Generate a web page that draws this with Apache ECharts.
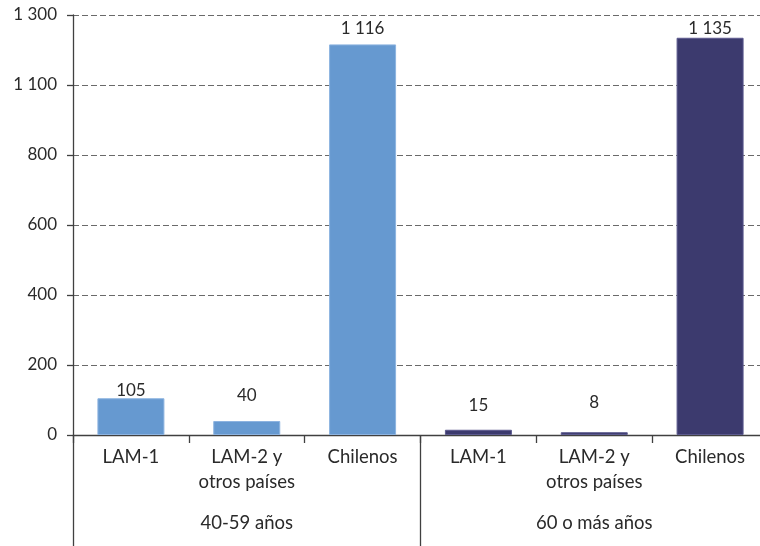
<!DOCTYPE html>
<html>
<head>
<meta charset="utf-8">
<script src="https://cdn.jsdelivr.net/npm/echarts@6/dist/echarts.min.js"></script>
<style>
html,body{margin:0;padding:0;background:#fff;overflow:hidden;}
#c{width:770px;height:546px;}
</style>
</head>
<body>
<div id="c"></div>
<script>
var categories = ['LAM-1', 'LAM-2 y\notros países', 'Chilenos', 'LAM-1', 'LAM-2 y\notros países', 'Chilenos'];
var groups = ['40-59 años', '60 o más años'];
var values = [105, 40, 1116, 15, 8, 1135];
var yTickLabels = ['0', '200', '400', '600', '800', '1 100', '1 300'];

// styling (not data)
var barColors = ['#6699D0', '#6699D0', '#6699D0', '#3C3A6E', '#3C3A6E', '#3C3A6E'];
var borderColors = ['#8DB3E0', '#8DB3E0', '#8DB3E0', '#5C5A8E', '#5C5A8E', '#5C5A8E'];
var labelDistances = [-1, 17, 7, 16, 21, 1];

var FONT = 'Lato';
var TXT = '#2a2a2a';

function fmt(v) {
  return String(v).replace(/\B(?=(\d{3})+(?!\d))/g, ' ');
}

var chart = echarts.init(document.getElementById('c'), null, {renderer: 'canvas'});
chart.setOption({
  animation: false,
  backgroundColor: '#ffffff',
  grid: {left: 73, right: 2, top: 15, bottom: 111, containLabel: false},
  xAxis: [
    {
      type: 'category',
      data: categories,
      position: 'bottom',
      axisLine: {show: true, lineStyle: {color: '#404040', width: 1.3}},
      axisTick: {show: true, length: 8, alignWithLabel: false, lineStyle: {color: '#404040', width: 1.3}},
      axisLabel: {interval: 0, margin: 10, fontFamily: FONT, fontSize: 18.5, lineHeight: 25, color: TXT}
    },
    {
      type: 'category',
      data: groups,
      position: 'bottom',
      axisLine: {show: false},
      axisTick: {show: true, length: 112, alignWithLabel: false, lineStyle: {color: '#404040', width: 1.3}},
      axisLabel: {interval: 0, margin: 76, fontFamily: FONT, fontSize: 18.5, lineHeight: 24, color: TXT}
    }
  ],
  yAxis: {
    type: 'value',
    min: 0,
    max: 1200,
    interval: 200,
    axisLine: {show: true, lineStyle: {color: '#404040', width: 1.3}},
    axisTick: {show: true, length: 6, lineStyle: {color: '#404040', width: 1.3}},
    axisLabel: {
      margin: 16,
      fontFamily: FONT, fontSize: 17, color: TXT,
      formatter: function (v) { return yTickLabels[Math.round(v / 200)]; }
    },
    splitLine: {show: true, lineStyle: {color: '#6a6a6a', type: [6, 3], width: 1}}
  },
  series: [{
    type: 'bar',
    xAxisIndex: 0,
    barWidth: 67,
    data: values.map(function (v, i) {
      return {
        value: v,
        itemStyle: {color: barColors[i], borderColor: borderColors[i], borderWidth: 1},
        label: {distance: labelDistances[i]}
      };
    }),
    label: {
      show: true,
      position: 'top',
      fontFamily: FONT,
      fontSize: 17,
      color: TXT,
      formatter: function (p) { return fmt(p.value); }
    }
  }]
});
</script>
</body>
</html>
